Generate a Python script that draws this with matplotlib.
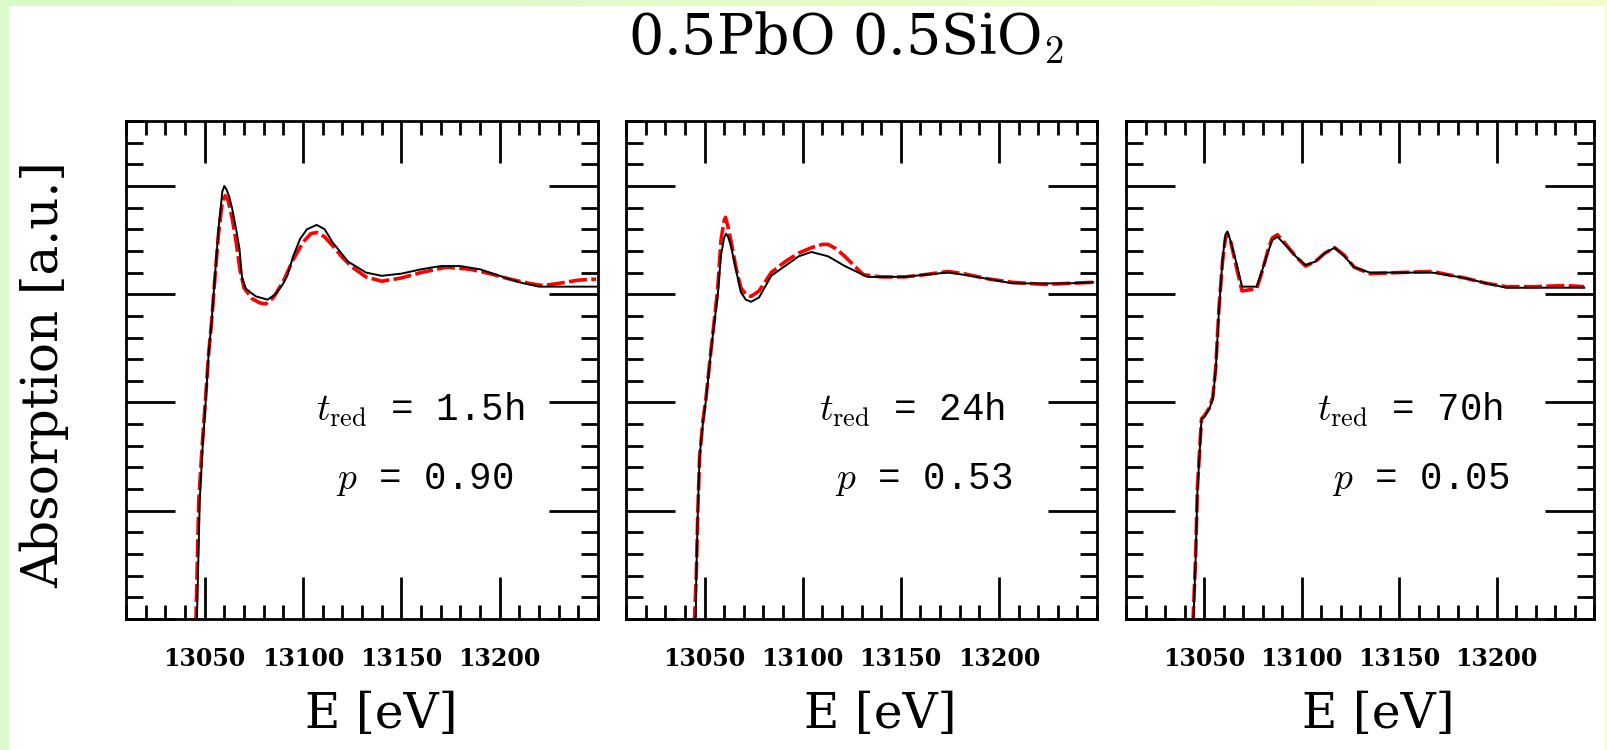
import numpy as np
import matplotlib.pyplot as plt
from matplotlib.ticker import MultipleLocator
from matplotlib.patches import Rectangle
from matplotlib.colors import LinearSegmentedColormap

plt.rcParams['mathtext.fontset'] = 'cm'

# panel labels
t_red = ['1.5h', '24h', '70h']
p_val = ['0.90', '0.53', '0.05']

# panel 1 : measured (black) and fit (red)
e1_meas = [13046, 13047.5, 13049, 13050.5, 13052, 13053.5, 13055, 13057, 13059, 13060, 13061, 13062.5,
           13064, 13066, 13067.7, 13069, 13071, 13076, 13082, 13086, 13090, 13092, 13095, 13098.5, 13102,
           13107, 13111, 13115, 13123, 13132, 13140, 13150, 13160, 13170, 13180, 13190, 13200, 13210,
           13220, 13230, 13240, 13249]
mu1_meas = [-0.05, 1.1, 1.6, 2.0, 2.45, 2.74, 3.11, 3.6, 3.95, 4.0, 3.97, 3.9,
            3.79, 3.6, 3.42, 3.15, 3.05, 2.98, 2.95, 3.0, 3.1, 3.17, 3.35, 3.51, 3.6,
            3.64, 3.6, 3.48, 3.3, 3.2, 3.17, 3.19, 3.23, 3.26, 3.26, 3.23, 3.17, 3.11,
            3.07, 3.07, 3.07, 3.07]
e1_fit = [13045.5, 13047, 13048.8, 13050.3, 13052, 13053.5, 13055, 13057, 13059, 13060.5, 13062, 13064,
          13066, 13068, 13070, 13074, 13078, 13081, 13085, 13090, 13095, 13100, 13104, 13107, 13111,
          13115, 13120, 13125, 13132, 13140, 13150, 13160, 13173, 13185, 13195, 13205, 13215, 13222,
          13230, 13240, 13249]
mu1_fit = [-0.05, 1.1, 1.62, 2.0, 2.45, 2.74, 3.1, 3.55, 3.86, 3.91, 3.86, 3.7,
           3.48, 3.22, 3.06, 2.96, 2.92, 2.91, 2.97, 3.12, 3.32, 3.48, 3.56, 3.57, 3.53,
           3.45, 3.34, 3.25, 3.16, 3.12, 3.15, 3.2, 3.25, 3.23, 3.19, 3.14, 3.1, 3.08,
           3.1, 3.13, 3.14]

# panel 2
e2_meas = [13045.5, 13045.8, 13046.6, 13047.5, 13049.2, 13050.8, 13053.4, 13055, 13056.7, 13058.4,
           13060, 13061, 13062, 13063.4, 13066, 13068.5, 13071, 13073.7, 13077.8, 13084, 13091,
           13098, 13104.5, 13113, 13121.5, 13133, 13152, 13162, 13174, 13182, 13195, 13207,
           13223.5, 13235, 13248]
mu2_meas = [-0.05, 0.39, 1.0, 1.5, 1.81, 2.03, 2.49, 2.74, 2.98, 3.36,
            3.52, 3.56, 3.53, 3.45, 3.23, 3.02, 2.95, 2.93, 2.97, 3.17, 3.26,
            3.35, 3.39, 3.35, 3.26, 3.16, 3.16, 3.18, 3.2, 3.18, 3.14, 3.1,
            3.1, 3.1, 3.11]
e2_fit = [13044.8, 13045.8, 13046.6, 13047.5, 13049.2, 13050.8, 13053.4, 13055, 13056.7, 13058.4,
          13060, 13060.7, 13062, 13063.4, 13066, 13068.5, 13071, 13073.7, 13077.8, 13084, 13091,
          13098, 13104.5, 13110, 13113, 13117, 13121.5, 13127, 13131, 13140, 13152, 13162,
          13174, 13182, 13195, 13207, 13223.5, 13235, 13248]
mu2_fit = [-0.05, 0.4, 1.0, 1.5, 1.83, 2.05, 2.5, 2.76, 3.05, 3.5,
           3.68, 3.71, 3.62, 3.5, 3.25, 3.06, 3.0, 2.98, 3.03, 3.2, 3.3,
           3.38, 3.43, 3.46, 3.46, 3.42, 3.35, 3.25, 3.18, 3.16, 3.16, 3.18,
           3.21, 3.19, 3.14, 3.11, 3.09, 3.1, 3.11]

# panel 3
e3_meas = [13044.5, 13045.7, 13046.6, 13048.7, 13050.3, 13052.7, 13054.5, 13056, 13057.7, 13059.5,
           13061, 13062, 13063.5, 13065, 13067, 13069.5, 13073, 13077, 13080, 13083, 13085, 13087.7,
           13092, 13097, 13102, 13107, 13112, 13117, 13122, 13127, 13135, 13150, 13167, 13183.7,
           13195, 13205, 13220, 13245]
mu3_meas = [-0.05, 0.55, 1.17, 1.84, 1.87, 1.94, 2.03, 2.3, 2.86, 3.32,
            3.55, 3.58, 3.5, 3.4, 3.26, 3.07, 3.07, 3.07, 3.23, 3.4, 3.5, 3.53,
            3.45, 3.35, 3.27, 3.3, 3.38, 3.43, 3.35, 3.25, 3.2, 3.2, 3.2, 3.15,
            3.1, 3.06, 3.06, 3.06]
e3_fit = [13044.3, 13045.7, 13046.6, 13048.7, 13050.3, 13052.7, 13054.5, 13056, 13057.7, 13059.5,
          13061, 13062, 13063.5, 13065, 13067, 13069.5, 13073, 13077, 13080, 13083, 13085, 13087.7,
          13092, 13097, 13102, 13107, 13112, 13117, 13122, 13127, 13135, 13150, 13167, 13183.7,
          13195, 13205, 13220, 13235, 13245]
mu3_fit = [-0.05, 0.57, 1.2, 1.85, 1.88, 1.95, 2.05, 2.32, 2.88, 3.3,
           3.52, 3.56, 3.5, 3.38, 3.22, 3.03, 3.04, 3.05, 3.22, 3.42, 3.52, 3.55,
           3.46, 3.35, 3.26, 3.3, 3.38, 3.43, 3.36, 3.25, 3.19, 3.2, 3.21, 3.15,
           3.1, 3.07, 3.07, 3.08, 3.07]

meas = [(e1_meas, mu1_meas), (e2_meas, mu2_meas), (e3_meas, mu3_meas)]
fits = [(e1_fit, mu1_fit), (e2_fit, mu2_fit), (e3_fit, mu3_fit)]

W, H = 1607, 750
fig = plt.figure(figsize=(W / 100, H / 100), dpi=100)
fig.patch.set_facecolor('white')

# light green frame round the picture
cmap = LinearSegmentedColormap.from_list('frame', ['#d6fcc8', '#f2fdc6'])
bar = fig.add_axes([0, 1 - 6 / H, 1, 6 / H])
bar.imshow(np.linspace(0, 1, 256)[None, :], aspect='auto', cmap=cmap)
bar.axis('off')
fig.patches.append(Rectangle((0, 0), 9 / W, 1, transform=fig.transFigure,
                             facecolor='#dafccb', edgecolor='none'))
fig.patches.append(Rectangle((1 - 2 / W, 0), 2 / W, 1, transform=fig.transFigure,
                             facecolor='#f6ffc2', edgecolor='none'))

lefts = [126, 626, 1126]
widths = [472, 471, 468]
txt_x = [(0.623, 0.633), (0.607, 0.633), (0.607, 0.630)]

for i in range(3):
    ax = fig.add_axes([lefts[i] / W, (H - 619) / H, widths[i] / W, 498 / H])
    em, mm = meas[i]
    ef, mf = fits[i]
    ax.plot(em, mm, color='black', lw=1.4, zorder=3)
    ax.plot(ef, mf, color='red', lw=2.6, ls=(0, (5, 1.2)), zorder=2)
    ax.set_xlim(13010, 13250)
    ax.set_ylim(0, 4.6)
    ax.xaxis.set_major_locator(MultipleLocator(50))
    ax.xaxis.set_minor_locator(MultipleLocator(10))
    ax.yaxis.set_major_locator(MultipleLocator(1))
    ax.yaxis.set_minor_locator(MultipleLocator(0.2))
    ax.tick_params(which='both', direction='in', top=True, right=True, width=2)
    ax.tick_params(axis='x', which='major', length=30, pad=20)
    ax.tick_params(axis='x', which='minor', length=10)
    ax.tick_params(axis='y', which='major', length=35)
    ax.tick_params(axis='y', which='minor', length=12)
    ax.set_yticklabels([])
    ax.set_xticks([13050, 13100, 13150, 13200])
    ax.set_xticklabels(['13050', '13100', '13150', '13200'],
                       fontfamily='DejaVu Serif', fontweight='bold', fontsize=17)
    for s in ax.spines.values():
        s.set_linewidth(2)
    ax.set_xlabel('E [eV]', fontfamily='DejaVu Serif', fontsize=35)
    ax.xaxis.set_label_coords(0.54, -0.145)
    ax.text(txt_x[i][0], 0.42, r'$t_{\rm red}$ = ' + t_red[i], transform=ax.transAxes,
            ha='center', va='center', fontfamily='Liberation Mono', fontsize=27)
    ax.text(txt_x[i][1], 0.28, r'$p$ = ' + p_val[i], transform=ax.transAxes,
            ha='center', va='center', fontfamily='Liberation Mono', fontsize=27)

fig.text(45 / W, 0.50, 'Absorption [a.u.]', rotation=90, ha='center', va='center',
         fontfamily='DejaVu Serif', fontsize=36)
fig.text(846 / W, 1 - 55 / H, r'0.5PbO 0.5SiO$_2$', ha='center', va='baseline',
         fontfamily='DejaVu Serif', fontsize=40)

plt.savefig('out.png', dpi=100, facecolor=fig.get_facecolor())
